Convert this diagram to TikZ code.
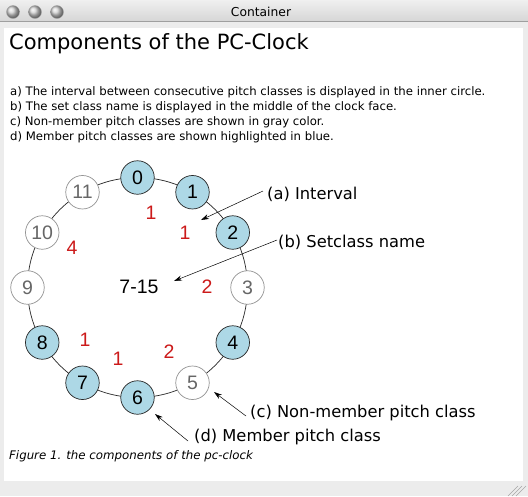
\documentclass[tikz,border=0pt]{standalone}
\usepackage{fontspec}
\setmainfont{DejaVu Sans}
\newfontfamily\helv{Liberation Sans}
\usetikzlibrary{arrows.meta}
\definecolor{pcblue}{HTML}{ADD8E6}
\definecolor{ired}{HTML}{CC1A1A}
\definecolor{ngray}{HTML}{666666}
\definecolor{winbg}{HTML}{ECECEC}
\begin{document}
\begin{tikzpicture}[x=1pt,y=-1pt,
  pcnode/.style={circle,minimum size=33.5pt,inner sep=0pt,font=\helv\fontsize{19.5}{20}\selectfont},
  member/.style={pcnode,draw=black!85,line width=0.7pt,fill=pcblue,text=black},
  nonmember/.style={pcnode,draw=gray!85,line width=0.7pt,fill=white,text=ngray},
  interval/.style={text=ired,font=\helv\fontsize{19.5}{20}\selectfont,inner sep=0pt},
  callout/.style={anchor=west,inner sep=0pt,font=\fontsize{16.3}{18}\selectfont},
  bodytext/.style={anchor=west,inner sep=0pt,font=\fontsize{11.7}{14}\selectfont},
  pointer/.style={-{Stealth[length=8pt,width=5pt]},black,line width=0.5pt},
  light/.style={circle,minimum size=13pt,inner sep=0pt,draw=gray!70,ball color=gray!35}]
\useasboundingbox (0,0) rectangle (528,496);
\fill[winbg] (0,0) rectangle (528,496);
\shade[top color=gray!12,bottom color=gray!32] (0,0) rectangle (528,21);
\draw[gray!75,line width=0.8pt] (0,21.5) -- (528,21.5);
\node[light] (l1) at (13,12) {};
\node[light] (l2) at (35,12) {};
\node[light] (l3) at (57,12) {};
\node[font=\fontsize{12.3}{14}\selectfont] (wtitle) at (261,11.5) {Container};
\fill[white] (4,28) rectangle (523,481);
% resize grip
\foreach \k in {0,4,8}{\draw[gray!70,line width=0.6pt] (526-\k,486) -- (516-\k,496);}
% heading and text
\node[anchor=west,inner sep=0pt,font=\fontsize{21}{24}\selectfont] (head) at (9,44) {Components of the PC-Clock};
\node[bodytext] (ta) at (10,92) {a) The interval between consecutive pitch classes is displayed in the inner circle.};
\node[bodytext] (tb) at (10,107) {b) The set class name is displayed in the middle of the clock face.};
\node[bodytext] (tc) at (10,122) {c) Non-member pitch classes are shown in gray color.};
\node[bodytext] (td) at (10,137) {d) Member pitch classes are shown highlighted in blue.};
% clock
\draw[black!85,line width=0.7pt] (137.5,287.5) circle[radius=110];
\foreach \i/\st in {0/member,1/member,2/member,3/nonmember,4/member,5/nonmember,6/member,7/member,8/member,9/nonmember,10/nonmember,11/nonmember}{
  \node[\st] (p\i) at ({137.5+110*sin(30*\i)},{287.5-110*cos(30*\i)}) {\i};
}
\node[interval] (i1) at (151,213) {1};
\node[interval] (i2) at (185,233) {1};
\node[interval] (i3) at (72,248) {4};
\node[interval] (i4) at (207,287) {2};
\node[interval] (i5) at (85,340) {1};
\node[interval] (i6) at (118,359) {1};
\node[interval] (i7) at (169,352) {2};
\node[font=\helv\fontsize{19.5}{20}\selectfont,inner sep=0pt] (sc) at (139,287) {7-15};
% callouts
\node[callout] (ca) at (267,194) {(a) Interval};
\node[callout] (cb) at (278,242) {(b) Setclass name};
\node[callout] (cc) at (250,413) {(c) Non-member pitch class};
\node[callout] (cd) at (194,437) {(d) Member pitch class};
\coordinate (ta1) at (201,220);
\coordinate (tb1) at (174,281);
\coordinate (tc1) at (214,392);
\coordinate (td1) at (155,414);
\draw[pointer] ([xshift=-4pt,yshift=3pt]ca.west) -- (ta1);
\draw[pointer] ([xshift=-1pt,yshift=2pt]cb.west) -- (tb1);
\draw[pointer] ([xshift=-4pt,yshift=-3pt]cc.west) -- (tc1);
\draw[pointer] ([xshift=-6pt,yshift=-4pt]cd.west) -- (td1);
\node[anchor=west,inner sep=0pt,font=\itshape\fontsize{11.8}{14}\selectfont] (cap) at (9,456) {Figure 1. the components of the pc-clock};
\end{tikzpicture}
\end{document}
